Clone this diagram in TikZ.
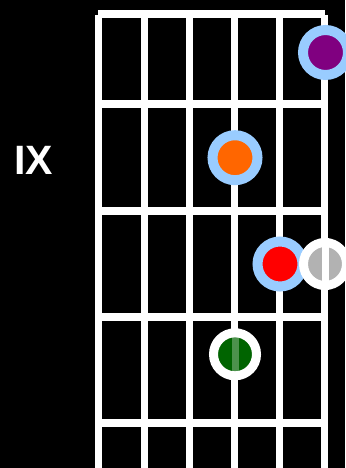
\documentclass[tikz,border=0pt]{standalone}
\usepackage{fontspec}
\newfontfamily\labfont{Liberation Sans}
\usetikzlibrary{calc}
\definecolor{dotring}{RGB}{153,204,255}
\definecolor{dotpurple}{RGB}{128,0,128}
\definecolor{dotorange}{RGB}{255,102,0}
\definecolor{dotred}{RGB}{255,0,0}
\definecolor{dotgray}{RGB}{178,178,178}
\definecolor{dotgreen}{RGB}{0,100,0}
\tikzset{
  str/.style  ={draw=white, line width=7pt, line cap=butt},
  frt/.style  ={draw=white, line width=8pt, line cap=butt},
  fdot/.style ={circle, draw=dotring, minimum size=45pt, inner sep=0pt, line width=10pt},
  odot/.style ={circle, draw=white, minimum size=43pt, inner sep=0pt, line width=9pt},
  flab/.style ={font=\labfont\bfseries\fontsize{41}{42}\selectfont, text=white, inner sep=0pt},
}

\begin{document}
\begin{tikzpicture}[x=1pt,y=-1pt]
  \useasboundingbox (0,0) rectangle (345,468);
  \fill[black] (0,0) rectangle (345,468);
  % strings
  \draw[str] (98.5,15) -- (98.5,468);
  \draw[str] (144,15) -- (144,468);
  \draw[str] (189,15) -- (189,468);
  \draw[str] (234.5,15) -- (234.5,468);
  \draw[str] (279.5,15) -- (279.5,468);
  \draw[str] (324.5,15) -- (324.5,468);
  % frets
  \draw[frt] (98,14) -- (325,14);
  \draw[frt] (95,104.5) -- (328,104.5);
  \draw[frt] (95,211) -- (328,211);
  \draw[frt] (95,317) -- (328,317);
  \draw[frt] (95,423) -- (328,423);
  \node[flab] (fretnum) at (33.4,160) {IX};
  % dots
  \node[fdot, fill=dotpurple] (purple) at (325.5,52.5) {};
  \node[fdot, fill=dotorange] (orange) at (235,157.7) {};
  \node[fdot, fill=dotred] (red) at (280,264) {};
  \node[odot, fill=dotgray] (gray) at (325,264) {};
  \node[odot, fill=dotgreen] (green) at (235,354.3) {};
  \draw[str] (gray.north) -- (gray.south);
  \draw[str, draw opacity=0.3] (green.north) -- (green.south);
\end{tikzpicture}
\end{document}
